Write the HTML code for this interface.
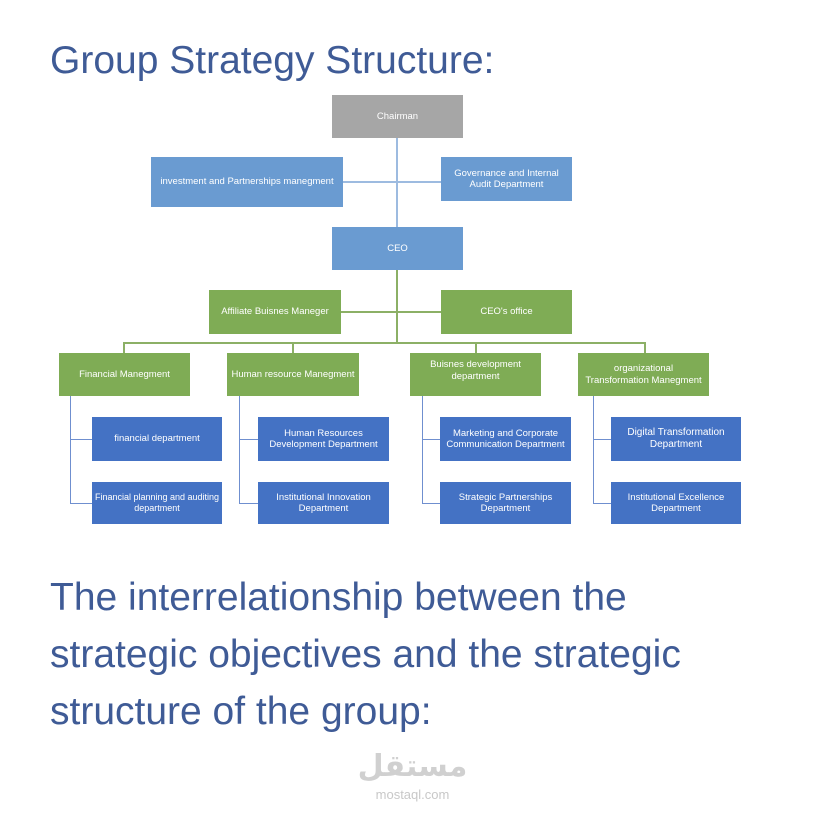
<!DOCTYPE html>
<html><head><meta charset="utf-8"><style>
body{margin:0;width:828px;height:820px;background:#fff;position:relative;overflow:hidden;font-family:"Liberation Sans",sans-serif}
.t{position:absolute;left:50px;color:#3f5b96;font-size:39px;white-space:nowrap;line-height:1}
.b{position:absolute;display:flex;align-items:center;justify-content:center;text-align:center;color:#fff;font-size:9.5px;line-height:1.2;box-sizing:border-box}
.g{background:#a6a6a6}.lb{background:#6a9bd1}.gr{background:#7fac55}.db{background:#4472c4}
.l{position:absolute}
.bl{background:#9dbbe0}.gl{background:#8cb066}.dl{background:#6f8fcf}
</style></head><body>
<div class="t" style="top:41px">Group Strategy Structure:</div>
<div class="t" style="top:578px">The interrelationship between the</div>
<div class="t" style="top:635px">strategic objectives and the strategic</div>
<div class="t" style="top:692px">structure of the group:</div>

<div class="l bl" style="left:396px;top:138px;width:2px;height:89px"></div>
<div class="l bl" style="left:343px;top:181px;width:98px;height:2px"></div>
<div class="l gl" style="left:396px;top:270px;width:2px;height:74px"></div>
<div class="l gl" style="left:341px;top:311px;width:100px;height:2px"></div>
<div class="l gl" style="left:123px;top:342px;width:523px;height:2px"></div>
<div class="l gl" style="left:123px;top:342px;width:2px;height:11px"></div>
<div class="l gl" style="left:292px;top:342px;width:2px;height:11px"></div>
<div class="l gl" style="left:475px;top:342px;width:2px;height:11px"></div>
<div class="l gl" style="left:644px;top:342px;width:2px;height:11px"></div>

<div class="b g" style="left:332px;top:95px;width:131px;height:43px">Chairman</div>
<div class="b lb" style="left:151px;top:157px;width:192px;height:50px">investment and Partnerships manegment</div>
<div class="b lb" style="left:441px;top:157px;width:131px;height:44px">Governance and Internal<br>Audit Department</div>
<div class="b lb" style="left:332px;top:227px;width:131px;height:43px">CEO</div>
<div class="b gr" style="left:209px;top:290px;width:132px;height:44px">Affiliate Buisnes Maneger</div>
<div class="b gr" style="left:441px;top:290px;width:131px;height:44px">CEO's office</div>

<div class="b gr" style="left:59px;top:353px;width:131px;height:43px">Financial Manegment</div>
<div class="b gr" style="left:227px;top:353px;width:132px;height:43px;white-space:nowrap">Human resource Manegment</div>
<div class="b gr" style="left:410px;top:353px;width:131px;height:43px;padding-bottom:8px">Buisnes development<br>department</div>
<div class="b gr" style="left:578px;top:353px;width:131px;height:43px">organizational<br>Transformation Manegment</div>

<div class="l dl" style="left:70px;top:396px;width:1px;height:108px"></div>
<div class="l dl" style="left:70px;top:439px;width:22px;height:1px"></div>
<div class="l dl" style="left:70px;top:503px;width:22px;height:1px"></div>
<div class="l dl" style="left:239px;top:396px;width:1px;height:108px"></div>
<div class="l dl" style="left:239px;top:439px;width:19px;height:1px"></div>
<div class="l dl" style="left:239px;top:503px;width:19px;height:1px"></div>
<div class="l dl" style="left:422px;top:396px;width:1px;height:108px"></div>
<div class="l dl" style="left:422px;top:439px;width:18px;height:1px"></div>
<div class="l dl" style="left:422px;top:503px;width:18px;height:1px"></div>
<div class="l dl" style="left:593px;top:396px;width:1px;height:108px"></div>
<div class="l dl" style="left:593px;top:439px;width:18px;height:1px"></div>
<div class="l dl" style="left:593px;top:503px;width:18px;height:1px"></div>

<div class="b db" style="left:92px;top:417px;width:130px;height:44px">financial department</div>
<div class="b db" style="left:92px;top:482px;width:130px;height:42px;white-space:nowrap;font-size:9px">Financial planning and auditing<br>department</div>
<div class="b db" style="left:258px;top:417px;width:131px;height:44px">Human Resources<br>Development Department</div>
<div class="b db" style="left:258px;top:482px;width:131px;height:42px">Institutional Innovation<br>Department</div>
<div class="b db" style="left:440px;top:417px;width:131px;height:44px">Marketing and Corporate<br>Communication Department</div>
<div class="b db" style="left:440px;top:482px;width:131px;height:42px">Strategic Partnerships<br>Department</div>
<div class="b db" style="left:611px;top:417px;width:130px;height:44px;font-size:10px">Digital Transformation<br>Department</div>
<div class="b db" style="left:611px;top:482px;width:130px;height:42px">Institutional Excellence<br>Department</div>

<div style="position:absolute;left:355px;top:752px;width:115px;text-align:center;color:#d0d0d0;font-size:30px;font-weight:bold;font-family:'DejaVu Sans',sans-serif;line-height:1">مستقل</div>
<div style="position:absolute;left:355px;top:788px;width:115px;text-align:center;color:#c8c8c8;font-size:13px;line-height:1">mostaql.com</div>
</body></html>
